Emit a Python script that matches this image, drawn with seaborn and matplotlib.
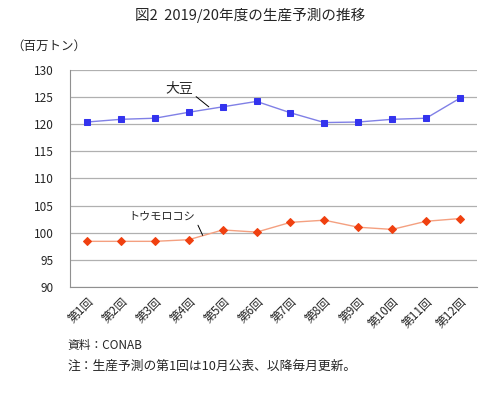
# 2019/20 crop forecast chart (CONAB)
import pandas as pd
import seaborn as sns
import matplotlib.pyplot as plt
from matplotlib.transforms import ScaledTranslation

# data
rounds = ["第1回", "第2回", "第3回", "第4回", "第5回", "第6回",
          "第7回", "第8回", "第9回", "第10回", "第11回", "第12回"]
soy = [120.4, 120.9, 121.1, 122.2, 123.2, 124.2, 122.1, 120.3, 120.4, 120.9, 121.1, 124.8]
corn = [98.4, 98.4, 98.4, 98.7, 100.5, 100.1, 101.9, 102.3, 101.0, 100.6, 102.1, 102.6]
y_ticks = [90, 95, 100, 105, 110, 115, 120, 125, 130]

df = pd.DataFrame({"round": list(range(len(rounds))) * 2,
                   "value": soy + corn,
                   "crop": ["大豆"] * len(soy) + ["トウモロコシ"] * len(corn)})

sns.set_style("white")
plt.rcParams["font.family"] = ["Noto Sans CJK JP", "DejaVu Sans"]

fig = plt.figure(figsize=(5.01, 3.93), dpi=100)
ax = fig.add_axes([0.140, 0.270, 0.812, 0.552])

sns.lineplot(data=df[df["crop"] == "大豆"], x="round", y="value", ax=ax,
             color="#8080e6", lw=1, marker="s", markersize=5,
             markerfacecolor="#3333ee", markeredgecolor="#3333ee")
sns.lineplot(data=df[df["crop"] == "トウモロコシ"], x="round", y="value", ax=ax,
             color="#f4a080", lw=1, marker="D", markersize=4.5,
             markerfacecolor="#f04010", markeredgecolor="#f04010")

ax.set_xlim(-0.5, len(rounds) - 0.5)
ax.set_ylim(90, 130)
ax.set_yticks(y_ticks)
ax.set_xticks(range(len(rounds)))
ax.set_xticklabels(rounds, rotation=45, ha="right", rotation_mode="anchor", fontsize=8.5)
shift = ScaledTranslation(-6 / 100, 0, fig.dpi_scale_trans)
for lab in ax.get_xticklabels():
    lab.set_transform(lab.get_transform() + shift)
ax.set_xticks([i - 0.5 for i in range(len(rounds) + 1)], minor=True)
ax.tick_params(axis="x", which="major", length=0, pad=6)
ax.tick_params(axis="x", which="minor", length=4, color="#909090", direction="out")
ax.tick_params(axis="y", length=0, labelsize=8.5, pad=12)
ax.set_xlabel("")
ax.set_ylabel("")

ax.grid(axis="y", color="#b0b0b0", lw=0.9)
ax.set_axisbelow(True)
for s in ["top", "right"]:
    ax.spines[s].set_visible(False)
for s in ["left", "bottom"]:
    ax.spines[s].set_color("#909090")

ax.annotate("大豆", xy=(3.59, 123.2), xytext=(2.71, 126.6), fontsize=10,
            ha="center", va="center",
            arrowprops=dict(arrowstyle="-", color="black", lw=0.7,
                            relpos=(1, 0.1), shrinkA=0, shrinkB=0))
ax.annotate("トウモロコシ", xy=(3.41, 99.5), xytext=(2.2, 102.9), fontsize=8,
            ha="center", va="center",
            arrowprops=dict(arrowstyle="-", color="black", lw=0.7,
                            relpos=(1, 0.3), shrinkA=0, shrinkB=0))

fig.text(0.5, 0.962, "図2  2019/20年度の生産予測の推移", ha="center", va="center", fontsize=10.5)
fig.text(0.022, 0.882, "（百万トン）", ha="left", va="center", fontsize=9)
fig.text(0.134, 0.122, "資料：CONAB", ha="left", va="center", fontsize=8.5)
fig.text(0.134, 0.068, "注：生産予測の第1回は10月公表、以降毎月更新。", ha="left", va="center", fontsize=9.2)

plt.savefig("out.png", dpi=100)
